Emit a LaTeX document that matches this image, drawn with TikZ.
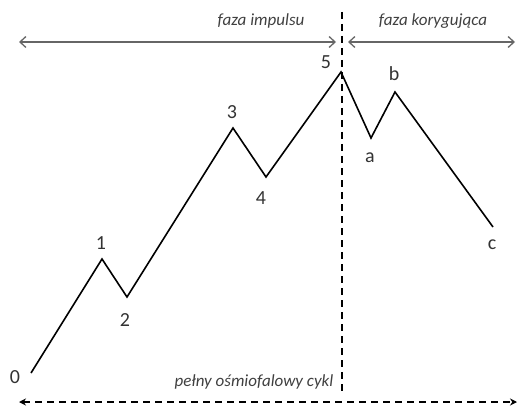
\documentclass[tikz,border=0pt]{standalone}
\usepackage{fontspec}
\setmainfont{Carlito}
\usetikzlibrary{arrows.meta}
\begin{document}
\begin{tikzpicture}[x=1pt, y=-1pt,
  wave/.style={line width=1.6pt, line join=miter},
  lbl/.style={font=\fontsize{20}{20}\selectfont, text=black!80, inner sep=0pt},
  phase/.style={font=\fontsize{17}{17}\selectfont\itshape, text=black!75, inner sep=0pt},
  span/.style={{Straight Barb[length=6pt, width=11pt]}-{Straight Barb[length=6pt, width=11pt]},
               line width=1.3pt, black!60},
  fullspan/.style={{Stealth[length=7pt, width=7pt]}-{Stealth[length=7pt, width=7pt]},
                   line width=1.6pt, dash pattern=on 7pt off 5pt},
  divider/.style={line width=1.5pt, dash pattern=on 7pt off 5pt}
]
  \useasboundingbox (0,0) rectangle (522,409);

  % wave points
  \coordinate (w0) at (31,373);
  \coordinate (w1) at (102,259);
  \coordinate (w2) at (127,297);
  \coordinate (w3) at (233,128);
  \coordinate (w4) at (266,177);
  \coordinate (w5) at (341,72);
  \coordinate (wa) at (371,138);
  \coordinate (wb) at (395,92);
  \coordinate (wc) at (493,227);

  \draw[wave] (w0) -- (w1) -- (w2) -- (w3) -- (w4) -- (w5) -- (wa) -- (wb) -- (wc);

  \node[lbl] (l0) at (15,377) {0};
  \node[lbl] (l1) at (101,243) {1};
  \node[lbl] (l2) at (125,320) {2};
  \node[lbl] (l3) at (232,112) {3};
  \node[lbl] (l4) at (261,198) {4};
  \node[lbl] (l5) at (326,62) {5};
  \node[lbl] (la) at (370,158) {a};
  \node[lbl] (lb) at (394,74) {b};
  \node[lbl] (lc) at (492,245) {c};

  % phases
  \coordinate (il) at (19,42);
  \coordinate (ir) at (336,42);
  \coordinate (kl) at (348,42);
  \coordinate (kr) at (515,42);
  \draw[span] (il) -- (ir);
  \draw[span] (kl) -- (kr);
  \node[phase] (imp) at (261,21) {faza impulsu};
  \node[phase] (kor) at (433,21) {faza korygująca};

  \coordinate (vt) at (342,12);
  \coordinate (vb) at (342,392);
  \draw[divider] (vt) -- (vb);

  \coordinate (cl) at (19,402);
  \coordinate (cr) at (517,402);
  \draw[fullspan] (cl) -- (cr);
  \node[phase] (cyc) at (254,382) {pełny ośmiofalowy cykl};
\end{tikzpicture}
\end{document}
